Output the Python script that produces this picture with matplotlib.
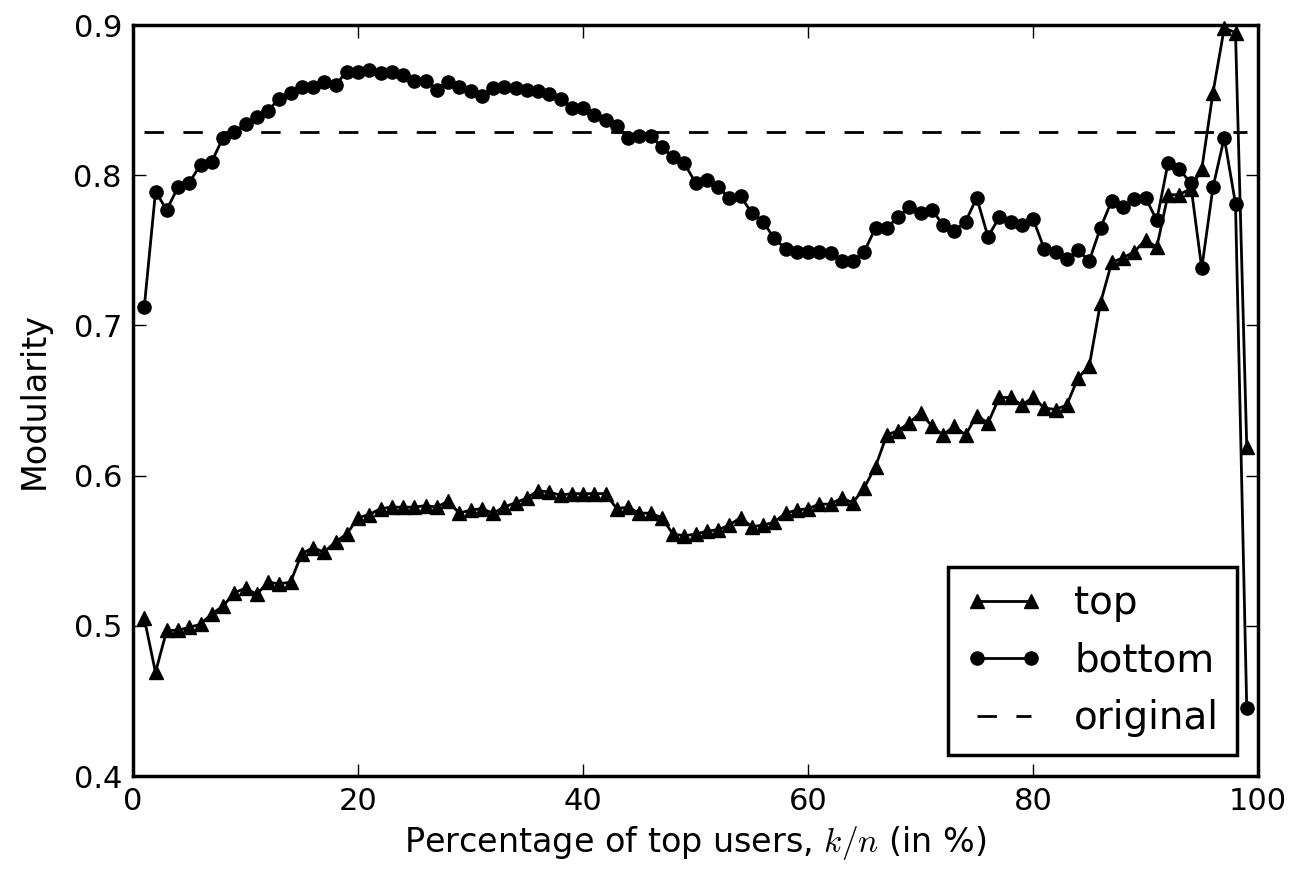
import numpy as np
import matplotlib
matplotlib.use('Agg')
import matplotlib.pyplot as plt

# percentage of top users removed (k/n, in %)
pct = np.arange(1, 100)

# modularity after keeping the top users
top = [0.505, 0.469, 0.497, 0.497, 0.499, 0.501, 0.508, 0.513, 0.522, 0.525,
       0.521, 0.529, 0.528, 0.529, 0.548, 0.552, 0.549, 0.556, 0.561, 0.572,
       0.574, 0.578, 0.579, 0.579, 0.579, 0.580, 0.579, 0.583, 0.575, 0.577,
       0.578, 0.575, 0.579, 0.582, 0.585, 0.590, 0.589, 0.587, 0.588, 0.588,
       0.588, 0.588, 0.578, 0.579, 0.575, 0.575, 0.572, 0.561, 0.560, 0.561,
       0.563, 0.564, 0.567, 0.572, 0.566, 0.567, 0.569, 0.575, 0.577, 0.578,
       0.581, 0.581, 0.585, 0.582, 0.592, 0.606, 0.627, 0.630, 0.635, 0.642,
       0.633, 0.627, 0.633, 0.627, 0.640, 0.635, 0.652, 0.652, 0.647, 0.652,
       0.645, 0.644, 0.647, 0.665, 0.673, 0.715, 0.742, 0.745, 0.749, 0.757,
       0.752, 0.787, 0.787, 0.791, 0.804, 0.855, 0.898, 0.895, 0.619]

# modularity after keeping the bottom users
bottom = [0.712, 0.789, 0.777, 0.792, 0.795, 0.807, 0.809, 0.825, 0.829, 0.834,
          0.839, 0.843, 0.851, 0.855, 0.859, 0.859, 0.862, 0.860, 0.869, 0.869,
          0.870, 0.868, 0.869, 0.867, 0.863, 0.863, 0.857, 0.862, 0.859, 0.856,
          0.853, 0.858, 0.859, 0.858, 0.857, 0.856, 0.854, 0.851, 0.845, 0.845,
          0.840, 0.837, 0.833, 0.825, 0.826, 0.826, 0.819, 0.812, 0.808, 0.795,
          0.797, 0.792, 0.785, 0.786, 0.775, 0.769, 0.758, 0.751, 0.749, 0.749,
          0.749, 0.748, 0.743, 0.743, 0.749, 0.765, 0.765, 0.772, 0.779, 0.775,
          0.777, 0.767, 0.763, 0.769, 0.785, 0.759, 0.772, 0.769, 0.767, 0.771,
          0.751, 0.749, 0.744, 0.750, 0.743, 0.765, 0.783, 0.779, 0.784, 0.785,
          0.770, 0.808, 0.804, 0.795, 0.738, 0.792, 0.825, 0.781, 0.445]

# modularity of the original network
original = 0.829

plt.rcParams['font.family'] = 'DejaVu Sans'
plt.rcParams['mathtext.fontset'] = 'cm'
plt.rcParams['xtick.direction'] = 'in'
plt.rcParams['ytick.direction'] = 'in'
plt.rcParams['xtick.top'] = True
plt.rcParams['ytick.right'] = True
plt.rcParams['xtick.major.size'] = 9
plt.rcParams['ytick.major.size'] = 9
plt.rcParams['xtick.major.width'] = 1
plt.rcParams['ytick.major.width'] = 1
plt.rcParams['xtick.major.pad'] = 8
plt.rcParams['ytick.major.pad'] = 8

fig = plt.figure(figsize=(13, 8.75), dpi=100)
ax = fig.add_axes([133 / 1300, 1 - 776 / 875, 1125 / 1300, 751 / 875])

ax.plot(pct, top, color='black', lw=2, marker='^', ms=9.5, label='top',
        clip_on=False, zorder=3)
ax.plot(pct, bottom, color='black', lw=2, marker='o', ms=9.5, label='bottom',
        clip_on=False, zorder=3)
ax.plot([pct[0], pct[-1]], [original, original], color='black', lw=2,
        dashes=(7, 7), label='original')

ax.set_xlim(0, 100)
ax.set_ylim(0.4, 0.9)
ax.set_xticks([0, 20, 40, 60, 80, 100])
ax.set_yticks([0.4, 0.5, 0.6, 0.7, 0.8, 0.9])
ax.tick_params(labelsize=22)
for sp in ax.spines.values():
    sp.set_linewidth(2.5)

ax.set_xlabel('Percentage of top users, $k/n$ (in %)', fontsize=24, labelpad=6)
ax.set_ylabel('Modularity', fontsize=24, labelpad=16)

leg = ax.legend(loc='lower right', fontsize=28, numpoints=2, fancybox=False,
                framealpha=1, edgecolor='black', borderaxespad=0.55,
                handlelength=2.0, handletextpad=0.8, borderpad=0.45,
                labelspacing=0.5)
leg.get_frame().set_linewidth(2.5)

fig.savefig('out.png', dpi=100, facecolor='white')
